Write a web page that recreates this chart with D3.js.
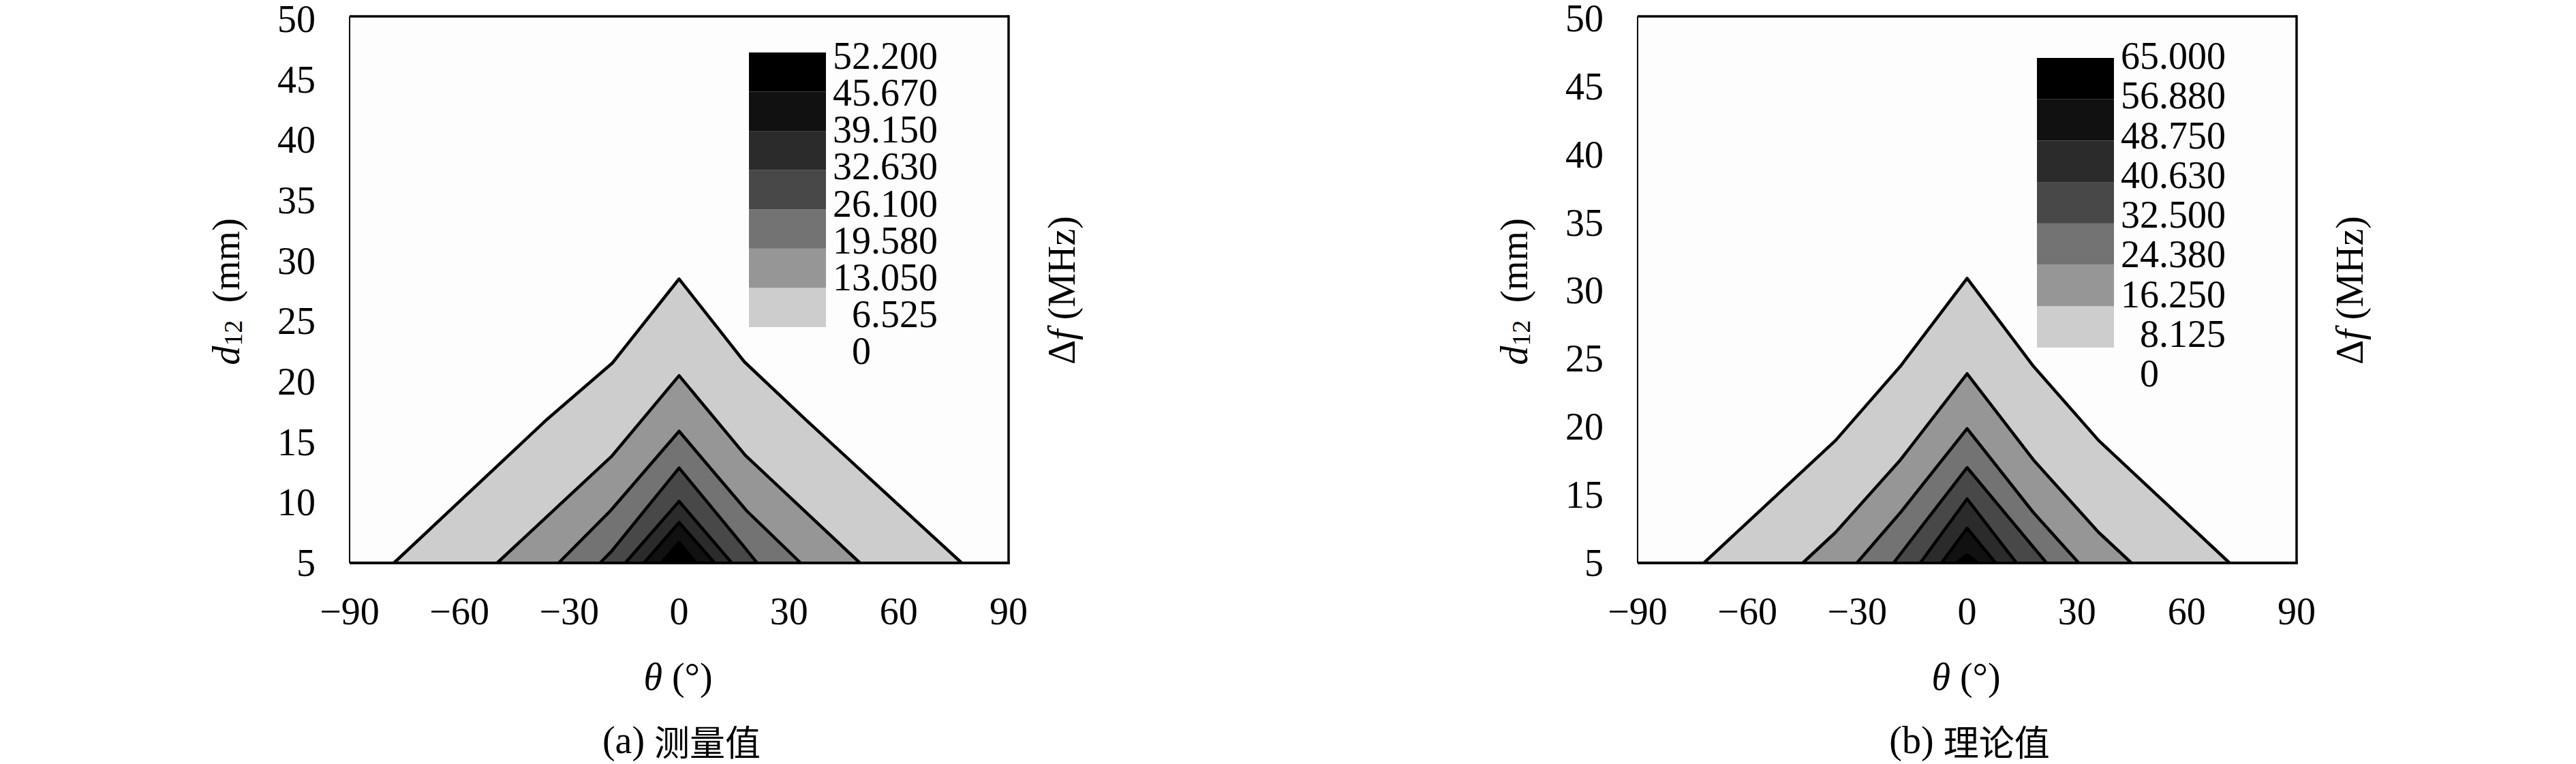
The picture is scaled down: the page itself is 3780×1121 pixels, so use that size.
<!DOCTYPE html>
<html><head><meta charset="utf-8">
<script src="https://cdn.jsdelivr.net/npm/d3@7"></script>
<style>
body{margin:0;background:#fff}
svg{display:block}
text{font-family:"Liberation Serif","DejaVu Serif",serif;fill:#000}
</style>
</head><body>
<svg id="chart" width="3780" height="1121"></svg>
<script>
// ---------------- DATA ----------------
const thetaTicks = [-90, -60, -30, 0, 30, 60, 90];
const dTicksA = [5, 10, 15, 20, 25, 30, 35, 40, 45, 50];
const dTicksB = [5, 15, 20, 25, 30, 35, 40, 45, 50];

const levelsA = [0, 6.525, 13.05, 19.58, 26.1, 32.63, 39.15, 45.67, 52.2];
const levelLabelsA = ["52.200", "45.670", "39.150", "32.630", "26.100", "19.580", "13.050", "6.525", "0"];
const levelsB = [0, 8.125, 16.25, 24.38, 32.5, 40.63, 48.75, 56.88, 65];
const levelLabelsB = ["65.000", "56.880", "48.750", "40.630", "32.500", "24.380", "16.250", "8.125", "0"];

const bandColors = ["#fdfdfd", "#cdcdcd", "#969696", "#737373", "#484848", "#2b2b2b", "#111111", "#000000"];

// contour boundaries [theta (deg), d12 (mm)] for levels[1..7]
const contoursA = [
  [[-77.9, 5], [-36, 16.9], [-18.2, 21.55], [0, 28.5], [17.8, 21.65], [34.4, 16.9], [77.2, 5]],
  [[-49.7, 5], [-18.5, 13.8], [0, 20.5], [18.1, 13.9], [49.4, 5]],
  [[-32.9, 5], [-18.8, 9.3], [0, 15.9], [18.5, 9.3], [33.2, 5]],
  [[-21.6, 5], [-18.5, 5.95], [0, 12.86], [18, 6.25], [21.3, 5]],
  [[-14.7, 5], [0, 10.1], [14.4, 5]],
  [[-9.6, 5], [0, 8.35], [9.7, 5]],
  [[-4.9, 5], [0, 6.7], [4.6, 5]]
];
const contoursB = [
  [[-71.9, 5], [-35.9, 19.0], [-18.2, 24.45], [0, 30.9], [18.1, 24.45], [35.9, 19.0], [71.7, 5]],
  [[-44.9, 5], [-35.9, 9.5], [-18.2, 17.57], [0, 23.9], [18.1, 17.57], [35.9, 9.5], [44.9, 5]],
  [[-30.1, 5], [-18.2, 12.4], [0, 19.86], [18.1, 12.4], [30.5, 5]],
  [[-20.1, 5], [0, 17.0], [21.7, 5]],
  [[-12.8, 5], [0, 14.4], [13.5, 5]],
  [[-7.0, 5], [0, 10.1], [7.8, 5]],
  [[-3.0, 5], [0, 6.2], [3.0, 5]]
];

// ---------------- LAYOUT ----------------
const svg = d3.select("#chart");
const FS = 56;

const panels = [
  { ox: 0, levels: levelsA, labels: levelLabelsA, contours: contoursA,
    dDomain: [5, 50], dRange: [826, 28], dTicks: dTicksA,
    legTop: 77, legBottom: 480, labTop: 82, labBottom: 515,
    tag: "(a) ", caption: "测量值" },
  { ox: 1890, levels: levelsB, labels: levelLabelsB, contours: contoursB,
    dDomain: [5, 15, 50], dRange: [826, 726, 27], dTicks: dTicksB,
    legTop: 85, legBottom: 510, labTop: 82, labBottom: 548,
    tag: "(b) ", caption: "理论值" }
];

panels.forEach(p => {
  const g = svg.append("g");
  const x0 = 513 + p.ox, x1 = 1480 + p.ox, yTop = 24, yBot = 826;
  const x = d3.scaleLinear().domain([-90, 90]).range([x0, x1]);
  const y = d3.scaleLinear().domain(p.dDomain).range(p.dRange);

  // plot background
  g.append("rect").attr("x", x0).attr("y", yTop).attr("width", x1 - x0).attr("height", yBot - yTop)
    .attr("fill", bandColors[0]);

  const areaLine = d3.line().x(d => x(d[0])).y(d => y(d[1])).curve(d3.curveLinearClosed);
  const openLine = d3.line().x(d => x(d[0])).y(d => y(d[1]));

  p.contours.forEach((pts, i) => {
    g.append("path").attr("d", areaLine(pts)).attr("fill", bandColors[i + 1]).attr("stroke", "none");
  });
  p.contours.forEach(pts => {
    g.append("path").attr("d", openLine(pts)).attr("fill", "none")
      .attr("stroke", "#000").attr("stroke-width", 4.5).attr("stroke-linejoin", "round");
  });

  // frame
  g.append("line").attr("x1", x0).attr("x2", x0).attr("y1", yTop).attr("y2", yBot)
    .attr("stroke", "#000").attr("stroke-width", 2);
  g.append("line").attr("x1", x0).attr("x2", x1).attr("y1", yTop).attr("y2", yTop)
    .attr("stroke", "#000").attr("stroke-width", 3.5);
  g.append("line").attr("x1", x1).attr("x2", x1).attr("y1", yTop - 1.75).attr("y2", yBot + 2)
    .attr("stroke", "#000").attr("stroke-width", 3.5);
  g.append("line").attr("x1", x0).attr("x2", x1 + 1.75).attr("y1", yBot).attr("y2", yBot)
    .attr("stroke", "#000").attr("stroke-width", 4);

  // legend swatches
  const n = p.levels.length - 1;
  const ly = d3.scaleLinear().domain([p.levels[n], p.levels[1]]).range([p.legTop, p.legBottom]);
  for (let i = 1; i < n; i++) {
    g.append("rect").attr("x", 1099 + p.ox).attr("width", 113)
      .attr("y", ly(p.levels[i + 1])).attr("height", ly(p.levels[i]) - ly(p.levels[i + 1]))
      .attr("fill", bandColors[i]);
  }
  const lab = d3.scalePoint().domain(p.labels).range([p.labTop, p.labBottom]);
  g.selectAll(".leglab").data(p.labels).enter().append("text")
    .attr("x", d => 1222 + p.ox + ((d.indexOf(".") === 1 || d === "0") ? 28 : 0))
    .attr("y", d => lab(d)).attr("dominant-baseline", "central")
    .attr("font-size", FS).text(d => d);

  // x tick labels
  g.selectAll(".xt").data(thetaTicks).enter().append("text")
    .attr("x", d => x(d)).attr("y", 897).attr("text-anchor", "middle")
    .attr("dominant-baseline", "central").attr("font-size", FS)
    .text(d => d < 0 ? "\u2212" + Math.abs(d) : d);

  // y tick labels
  g.selectAll(".yt").data(p.dTicks).enter().append("text")
    .attr("x", x0 - 50).attr("y", d => y(d)).attr("text-anchor", "end")
    .attr("dominant-baseline", "central").attr("font-size", FS).text(d => d);

  // y title
  const yt = g.append("text").attr("transform", `translate(${332 + p.ox},428) rotate(-90)`)
    .attr("text-anchor", "middle").attr("dominant-baseline", "central").attr("font-size", FS);
  yt.append("tspan").attr("font-style", "italic").text("d");
  yt.append("tspan").attr("font-size", 38).attr("dy", 10).text("12");
  yt.append("tspan").attr("dy", -10).text("\u2009 (mm)");

  // right title
  const rt = g.append("text").attr("transform", `translate(${1558 + p.ox},426) rotate(-90)`)
    .attr("text-anchor", "middle").attr("dominant-baseline", "central").attr("font-size", FS);
  rt.append("tspan").text("\u0394");
  rt.append("tspan").attr("font-style", "italic").text("f");
  rt.append("tspan").text(" (MHz)");

  // x title
  const xt = g.append("text").attr("x", 995 + p.ox).attr("y", 993)
    .attr("text-anchor", "middle").attr("dominant-baseline", "central").attr("font-size", FS);
  xt.append("tspan").attr("font-style", "italic").text("\u03B8");
  xt.append("tspan").text(" (\u00B0)");

  // caption
  const ct = g.append("text").attr("x", 1000 + p.ox).attr("y", 1086)
    .attr("text-anchor", "middle").attr("dominant-baseline", "central").attr("font-size", FS);
  ct.append("tspan").text(p.tag);
  ct.append("tspan").attr("font-family", "'Noto Sans CJK SC'").attr("font-size", 52).text(p.caption);
});
</script>
</body></html>
